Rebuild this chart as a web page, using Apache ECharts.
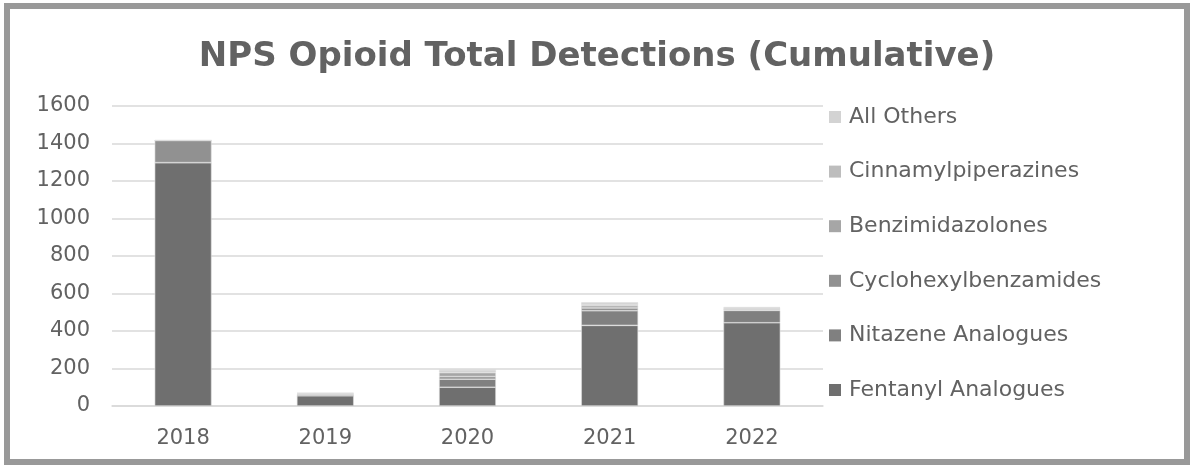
<!DOCTYPE html>
<html>
<head>
<meta charset="utf-8">
<script src="https://cdn.jsdelivr.net/npm/echarts@6/dist/echarts.min.js"></script>
<style>
  html, body { margin: 0; padding: 0; background: #ffffff; }
  #frame {
    position: absolute; left: 4px; top: 3px;
    width: 1174px; height: 450px;
    border: 6px solid #999999; background: #ffffff;
  }
  #chart { position: absolute; left: 0; top: 0; width: 1174px; height: 450px; }
</style>
</head>
<body>
<div id="frame"><div id="chart"></div></div>
<script>
// Detection counts per year, by opioid class
const years = ['2018', '2019', '2020', '2021', '2022'];
const fentanylAnalogues     = [1298, 55, 100, 430, 444];
const nitazeneAnalogues     = [0, 0, 43, 78, 66];
const cyclohexylbenzamides  = [118, 8, 14, 15, 6];
const benzimidazolones      = [0, 3, 21, 12, 5];
const cinnamylpiperazines   = [0, 2, 9, 8, 3];
const allOthers             = [2, 2, 9, 10, 4];
const yTicks = [0, 200, 400, 600, 800, 1000, 1200, 1400, 1600];

const seriesDefs = [
  { name: 'Fentanyl Analogues',   data: fentanylAnalogues,    color: '#6f6f6f' },
  { name: 'Nitazene Analogues',   data: nitazeneAnalogues,    color: '#808080' },
  { name: 'Cyclohexylbenzamides', data: cyclohexylbenzamides, color: '#919191' },
  { name: 'Benzimidazolones',     data: benzimidazolones,     color: '#a6a6a6' },
  { name: 'Cinnamylpiperazines',  data: cinnamylpiperazines,  color: '#bdbdbd' },
  { name: 'All Others',           data: allOthers,            color: '#d3d3d3' }
];

const FONT = 'DejaVu Sans';
const chart = echarts.init(document.getElementById('chart'), null, { renderer: 'canvas' });

chart.setOption({
  animation: false,
  textStyle: { fontFamily: FONT },
  title: {
    text: 'NPS Opioid Total Detections (Cumulative)',
    left: 'center',
    top: 26,
    textStyle: { fontFamily: FONT, fontSize: 34, fontWeight: 'bold', color: '#626262' }
  },
  legend: {
    orient: 'vertical',
    left: 814,
    top: 92,
    itemWidth: 12,
    itemHeight: 12,
    itemGap: 32.6,
    icon: 'rect',
    itemStyle: { borderWidth: 0 },
    data: seriesDefs.map(s => s.name).reverse(),
    textStyle: { fontFamily: FONT, fontSize: 22, color: '#626262', padding: [0, 0, 0, 3] }
  },
  grid: { left: 102, top: 97, width: 711, height: 300, containLabel: false },
  xAxis: {
    type: 'category',
    data: years,
    axisLine: { show: true, lineStyle: { color: '#d9d9d9', width: 1.5 } },
    axisTick: { show: false },
    axisLabel: { fontFamily: FONT, fontSize: 21, color: '#626262', margin: 22 }
  },
  yAxis: {
    type: 'value',
    min: yTicks[0],
    max: yTicks[yTicks.length - 1],
    interval: 200,
    axisLine: { show: false },
    axisTick: { show: false },
    axisLabel: {
      fontFamily: FONT, fontSize: 21, color: '#626262', margin: 22,
      formatter: v => String(v)
    },
    splitLine: { lineStyle: { color: '#d9d9d9', width: 1.5 } }
  },
  series: seriesDefs.map(s => ({
    name: s.name,
    type: 'bar',
    stack: 'total',
    barWidth: '40%',
    data: s.data,
    itemStyle: { color: s.color, borderColor: '#dedede', borderWidth: 0.6 }
  }))
});
</script>
</body>
</html>
